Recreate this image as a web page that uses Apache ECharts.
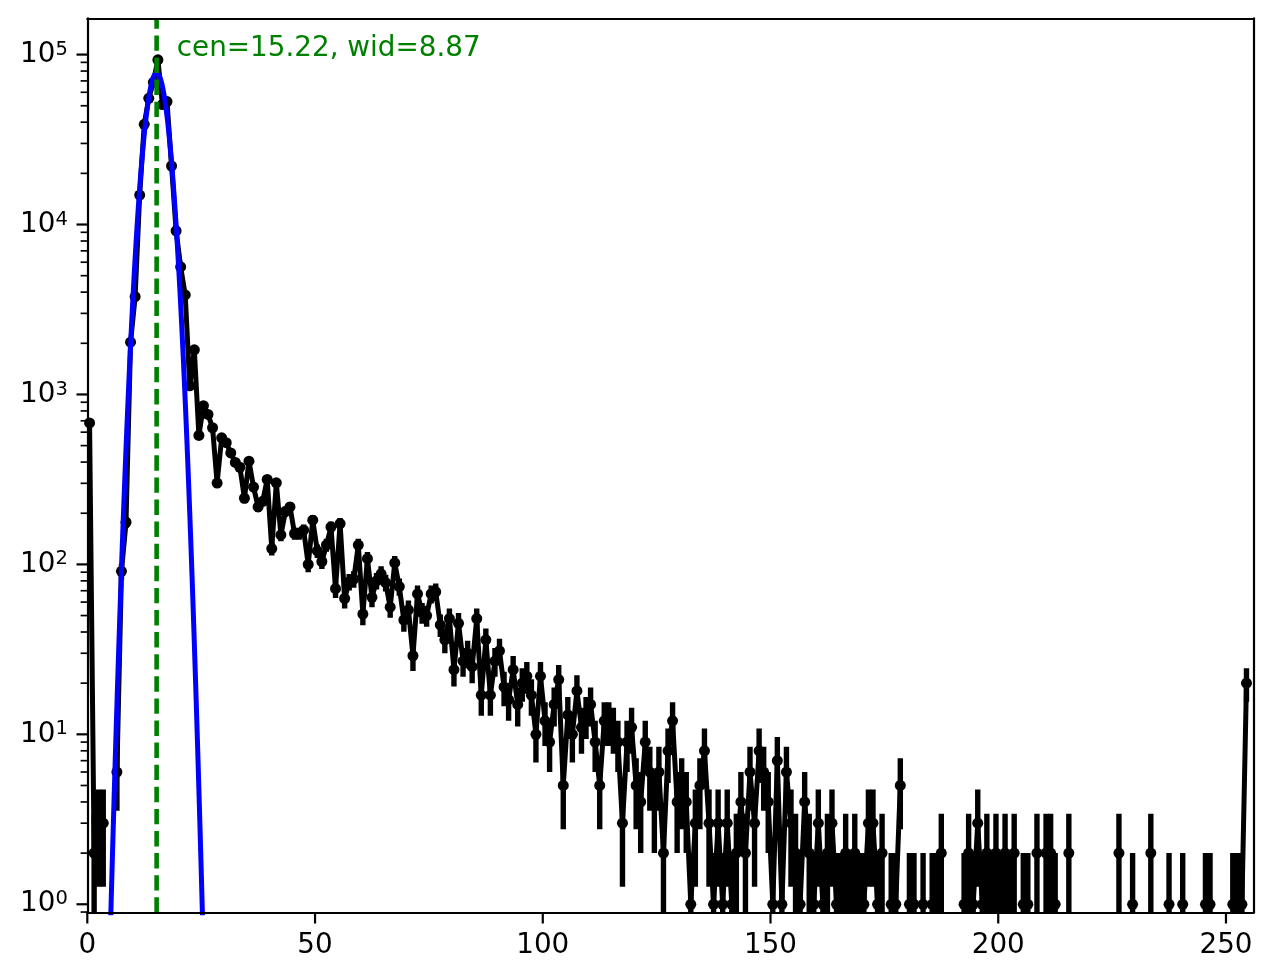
<!DOCTYPE html>
<html><head><meta charset="utf-8">
<script src="https://cdn.jsdelivr.net/npm/echarts@6/dist/echarts.min.js"></script>
<style>html,body{margin:0;padding:0;background:#fff}#c{width:1273px;height:980px}</style>
</head><body><div id="c"></div>
<script>
// histogram counts per bin (bin i centred at i + 0.5)
const counts = [
  680, 2, 3, 3, 0, 0, 6, 91, 177, 2030,
  3760, 14900, 38900, 55300, 68700, 93100, 50800, 52900, 22100, 9180,
  5640, 3850, 1125, 1830, 574, 859, 763, 637, 301, 556,
  520, 453, 398, 373, 245, 405, 285, 218, 235, 316,
  124, 302, 149, 205, 218, 152, 152, 159, 100, 182,
  120, 104, 130, 166, 72, 174, 63, 79, 82, 130,
  51, 108, 64, 80, 88, 78, 56, 102, 74, 47,
  54, 29, 67, 52, 50, 67, 69, 44, 36, 48,
  24, 45, 27, 30, 25, 48, 17, 36, 17, 27,
  31, 19, 16, 24, 15, 20, 22, 17, 10, 22,
  12, 9, 15, 21, 5, 13, 10, 18, 11, 13,
  15, 9, 5, 12, 12, 11, 9, 3, 9, 11,
  5, 4, 9, 6, 4, 6, 2, 8, 12, 4,
  5, 4, 1, 3, 5, 8, 3, 1, 3, 1,
  3, 1, 2, 4, 2, 6, 3, 8, 6, 4,
  1, 7, 1, 6, 3, 2, 1, 4, 2, 1,
  3, 1, 2, 3, 1, 1, 2, 1, 2, 1,
  1, 3, 3, 1, 2, 0, 1, 1, 5, 0,
  1, 1, 0, 1, 0, 1, 1, 2, 0, 0,
  0, 0, 1, 2, 1, 3, 1, 2, 1, 2,
  1, 2, 1, 2, 0, 1, 1, 0, 2, 0,
  2, 2, 1, 0, 0, 2, 0, 0, 0, 0,
  0, 0, 0, 0, 0, 0, 2, 0, 0, 1,
  0, 0, 0, 2, 0, 0, 0, 1, 0, 0,
  1, 0, 0, 0, 0, 1, 1, 0, 0, 0,
  0, 1, 1, 1, 20
];
const binOffset = 0.5;
// Gaussian fit parameters (model: amp * exp(-(x-cen)^2 / wid))
const fitCenter = 15.22;
const fitWidth = 8.87;
const fitAmplitude = 78000;
// axes
const xTickValues = [0, 50, 100, 150, 200, 250];
const yTickPowers = [0, 1, 2, 3, 4, 5];
const xRange = [0, 256];
const yRange = [0.892, 163500];

const FONT = 'DejaVu Sans';
const FS = 27.8;
const LW = 5.0;
const ELW = 5.4;
const TICK_MAJOR = 9.7, TICK_MINOR = 5.6;

const xs = counts.map((c, i) => i + binOffset);
const linePts = counts.map((c, i) => [xs[i], c > 0 ? c : '-']);
const errPts = [];
counts.forEach((c, i) => {
  if (c > 0) {
    const e = Math.sqrt(c);
    const lo = c - e > 0 ? c - e : 1e-4;
    errPts.push([xs[i], lo, c + e]);
  }
});
const fitPts = [];
for (let k = 0; k <= 800; k++) {
  const x = k * 0.05;
  const v = fitAmplitude * Math.exp(-Math.pow(x - fitCenter, 2) / fitWidth);
  if (v > 1e-3) fitPts.push([x, v]);
}
const yMinorTicks = [];
yTickPowers.concat([-1]).forEach(p => {
  for (let m = 2; m <= 9; m++) {
    const v = m * Math.pow(10, p);
    if (v >= yRange[0] && v <= yRange[1]) yMinorTicks.push([xRange[0], v, 0]);
  }
});
const yTicks = yTickPowers.map(p => [xRange[0], Math.pow(10, p), 1]).concat(yMinorTicks);
const xTicks = xTickValues.map(v => [v, yRange[0]]);
const labelText = 'cen=' + fitCenter.toFixed(2) + ', wid=' + fitWidth.toFixed(2);
const peak = Math.max.apply(null, counts);

const chart = echarts.init(document.getElementById('c'));
chart.setOption({
  animation: false,
  backgroundColor: '#fff',
  grid: { left: 87.3, right: 19.7, top: 18.3, bottom: 67.3, containLabel: false },
  xAxis: [{
    type: 'value', min: xRange[0], max: xRange[1], interval: 50, z: 10,
    axisLine: { show: true, onZero: false, lineStyle: { color: '#000', width: 2.2 } },
    axisTick: { show: false }, splitLine: { show: false },
    axisLabel: { margin: 19.4, color: '#000', fontSize: FS, fontFamily: FONT,
      formatter: v => (v % 50 === 0 && v <= 250) ? String(v) : '' }
  }, {
    type: 'value', position: 'top', min: 0, max: 1, z: 10,
    axisLine: { show: true, onZero: false, lineStyle: { color: '#000', width: 2.2 } },
    axisTick: { show: false }, axisLabel: { show: false }, splitLine: { show: false }
  }],
  yAxis: [{
    type: 'log', logBase: 10, min: yRange[0], max: yRange[1], z: 10,
    axisLine: { show: true, onZero: false, lineStyle: { color: '#000', width: 2.2 } },
    axisTick: { show: false }, splitLine: { show: false }, minorTick: { show: false },
    axisLabel: { margin: 19.4, color: '#000', fontFamily: FONT,
      formatter: v => {
        const e = Math.log10(v);
        if (Math.abs(e - Math.round(e)) > 1e-6) return '';
        return '{b|10}{s|' + Math.round(e) + '}';
      },
      rich: {
        b: { fontSize: FS, fontFamily: FONT, color: '#000', lineHeight: 30 },
        s: { fontSize: 19.5, fontFamily: FONT, color: '#000', lineHeight: 18.4, verticalAlign: 'top' }
      }
    }
  }, {
    type: 'value', position: 'right', min: 0, max: 1, z: 10,
    axisLine: { show: true, onZero: false, lineStyle: { color: '#000', width: 2.2 } },
    axisTick: { show: false }, axisLabel: { show: false }, splitLine: { show: false }
  }],
  series: [
    {
      type: 'custom', name: 'errorbars', z: 2, clip: true, silent: true,
      data: errPts, encode: { x: 0, y: [1, 2] },
      renderItem: (params, api) => {
        const p1 = api.coord([api.value(0), api.value(1)]);
        const p2 = api.coord([api.value(0), api.value(2)]);
        return { type: 'line', shape: { x1: p1[0], y1: p1[1], x2: p2[0], y2: p2[1] },
          style: { stroke: '#000', lineWidth: ELW } };
      }
    },
    {
      type: 'line', name: 'data', z: 2, data: linePts, connectNulls: false,
      symbol: 'circle', symbolSize: 11, showAllSymbol: true, silent: true,
      lineStyle: { color: '#000', width: LW }, itemStyle: { color: '#000', borderWidth: 0 }
    },
    {
      type: 'line', name: 'fit', z: 3, data: fitPts, showSymbol: false, silent: true,
      lineStyle: { color: '#0000ff', width: 5.0 }
    },
    {
      type: 'line', name: 'cen', z: 4, showSymbol: false, silent: true,
      data: [[fitCenter, yRange[0]], [fitCenter, yRange[1]]],
      lineStyle: { color: '#008000', width: 4.6, type: [15.4, 6.7] }
    },
    {
      type: 'custom', name: 'label', z: 5, silent: true,
      data: [[fitCenter + fitWidth / 2, peak]],
      renderItem: (params, api) => {
        const p = api.coord([api.value(0), api.value(1)]);
        return { type: 'text', style: { text: labelText, x: p[0], y: p[1] - 11.5,
          fill: '#008000', font: FS + 'px "' + FONT + '"', align: 'left', verticalAlign: 'middle' } };
      }
    },
    {
      type: 'custom', name: 'xticks', z: 10, silent: true, data: xTicks,
      renderItem: (params, api) => {
        const p = api.coord([api.value(0), api.value(1)]);
        return { type: 'line', shape: { x1: p[0], y1: p[1], x2: p[0], y2: p[1] + 1.1 + TICK_MAJOR },
          style: { stroke: '#000', lineWidth: 2.2 } };
      }
    },
    {
      type: 'custom', name: 'yticks', z: 10, silent: true, data: yTicks,
      renderItem: (params, api) => {
        const p = api.coord([api.value(0), api.value(1)]);
        const major = api.value(2) === 1;
        const len = major ? TICK_MAJOR : TICK_MINOR;
        return { type: 'line', shape: { x1: p[0] - 1.1 - len, y1: p[1], x2: p[0], y2: p[1] },
          style: { stroke: '#000', lineWidth: major ? 2.2 : 1.67 } };
      }
    }
  ]
});
</script></body></html>
